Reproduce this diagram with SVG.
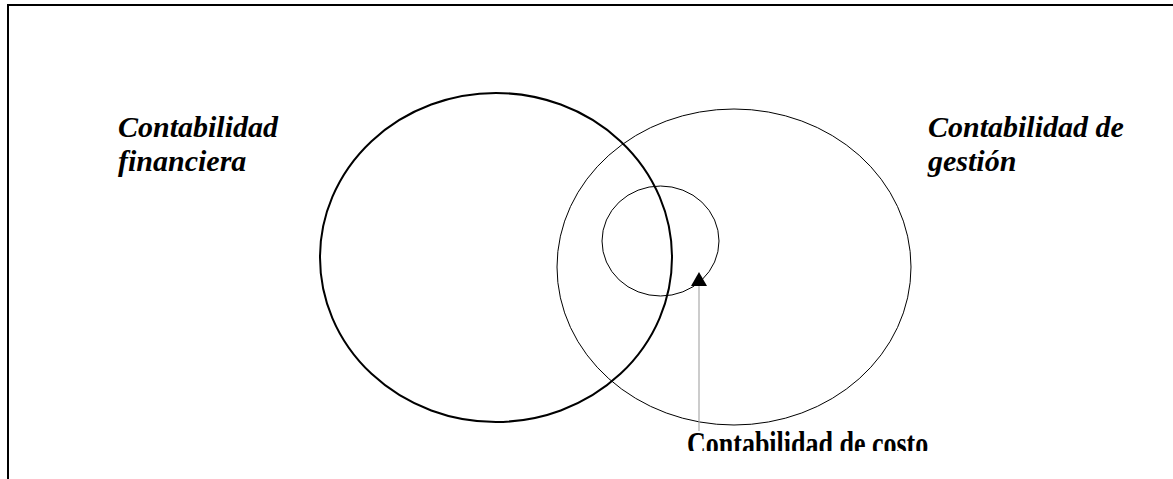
<svg xmlns="http://www.w3.org/2000/svg" width="1173" height="479" viewBox="0 0 1173 479">
<style>
.lbl{font-family:"Liberation Serif","Times New Roman",serif;font-weight:bold;font-style:italic;font-size:30px;fill:#000}
.cap{font-family:"Liberation Serif","Times New Roman",serif;font-weight:bold;font-size:26px;fill:#000}
.c{fill:none;stroke:#000}
</style>
<defs>
<clipPath id="clipCap"><rect x="600" y="420" width="400" height="31"/></clipPath>
</defs>
<rect width="1173" height="479" fill="#fff"/>
<g id="frame">
<line x1="8" y1="5" x2="1173" y2="5" stroke="#000" stroke-width="2"/>
<line x1="8" y1="4" x2="8" y2="479" stroke="#000" stroke-width="2"/>
</g>
<g id="financiera">
<ellipse class="c" cx="496" cy="257.5" rx="176" ry="164.5" stroke-width="2"/>
<text class="lbl" x="118" y="137">Contabilidad</text>
<text class="lbl" x="118" y="171">financiera</text>
</g>
<g id="gestion">
<ellipse class="c" cx="734" cy="267" rx="177" ry="158" stroke-width="1"/>
<text class="lbl" x="928" y="137">Contabilidad de</text>
<text class="lbl" x="928" y="171">gestión</text>
</g>
<g id="costo">
<ellipse class="c" cx="660.5" cy="241" rx="58.5" ry="55" stroke-width="1"/>
<g clip-path="url(#clipCap)">
<text class="cap" transform="translate(687,455) scale(1,1.28)" x="0" y="0">Contabilidad de costo</text>
</g>
</g>
<g id="connectors">
<line x1="699" y1="284" x2="699" y2="431" stroke="#999" stroke-width="1"/>
<polygon points="699,272 707,286 691,286" fill="#000"/>
</g>
</svg>
